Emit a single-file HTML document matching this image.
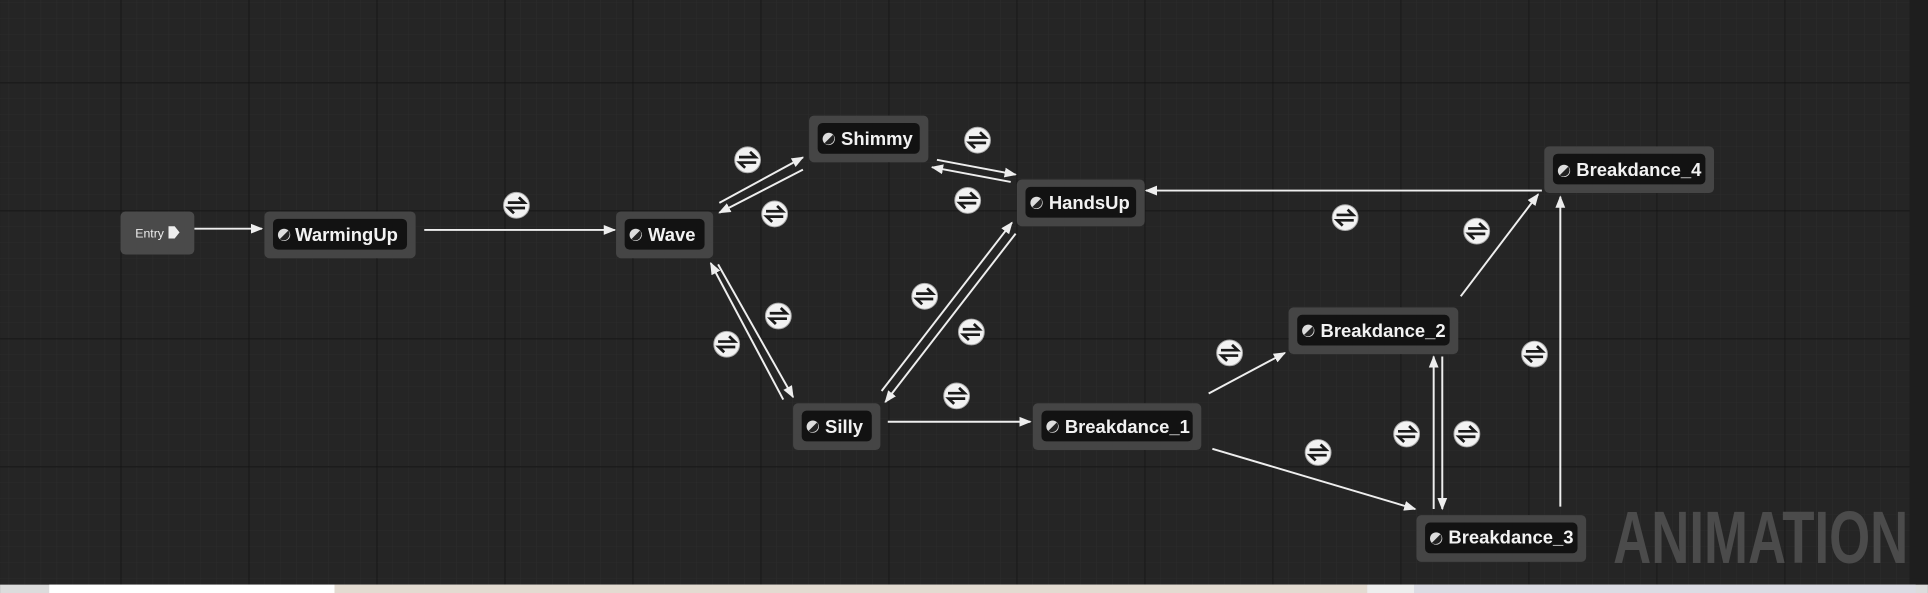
<!DOCTYPE html>
<html><head><style>
html,body{margin:0;padding:0;background:#252525;overflow:hidden}
svg{display:block}
</style></head><body>
<svg width="1928" height="593" viewBox="0 0 1568 482.3" xmlns="http://www.w3.org/2000/svg" font-family="'Liberation Sans',sans-serif">
<defs>
<pattern id="mn" width="13.01" height="13.01" patternUnits="userSpaceOnUse" x="98" y="67">
<path d="M0 0H13.01M0 0V13.01" stroke="#2c2c2c" stroke-width="0.8" fill="none"/>
</pattern>
<pattern id="mj" width="104.1" height="104.1" patternUnits="userSpaceOnUse" x="98" y="67">
<path d="M0 0H104.1M0 0V104.1" stroke="#141414" stroke-width="1.4" fill="none"/>
</pattern>
<marker id="ah" markerWidth="10" markerHeight="10" refX="9" refY="5" orient="auto" markerUnits="userSpaceOnUse">
<path d="M0 1L10 5L0 9Z" fill="#eee"/>
</marker>
<g id="ti">
<circle r="10.5" fill="#f2f2f2" stroke="#aaa" stroke-width="0.8"/>
<path d="M-7 -2.2H6.5L2 -6.5M7 2.2H-6.5L-2 6.5" stroke="#1a1a1a" stroke-width="2.2" fill="none"/>
</g>
</defs>
<rect width="1568" height="483" fill="#252525"/>
<rect width="1568" height="483" fill="url(#mn)"/>
<rect width="1568" height="483" fill="url(#mj)"/>
<rect x="1553" y="0" width="15" height="476" fill="#1e1e1e"/>

<g stroke="#eee" stroke-width="1.6" fill="none" marker-end="url(#ah)">
<path d="M158 186H213"/>
<path d="M345 187H500"/>
<path d="M585 165L653 128"/>
<path d="M653 138L585 173"/>
<path d="M762 130L826 142"/>
<path d="M822 148L758 136"/>
<path d="M584 215L645 323"/>
<path d="M637 325L578 214"/>
<path d="M717 318L823 181"/>
<path d="M826 190L720 327"/>
<path d="M722 343H838"/>
<path d="M1254 155H932"/>
<path d="M983 320L1045 287"/>
<path d="M986 365L1151 414"/>
<path d="M1188 241L1251 158"/>
<path d="M1269 412V160"/>
<path d="M1166 414V290"/>
<path d="M1173 290V414"/>
</g>

<g>
<use href="#ti" x="420" y="167"/><use href="#ti" x="608" y="130"/><use href="#ti" x="630" y="174"/>
<use href="#ti" x="795" y="114"/><use href="#ti" x="787" y="163"/><use href="#ti" x="633" y="257"/>
<use href="#ti" x="591" y="280"/><use href="#ti" x="752" y="241"/><use href="#ti" x="790" y="270"/>
<use href="#ti" x="778" y="322"/><use href="#ti" x="1094" y="177"/><use href="#ti" x="1000" y="287"/>
<use href="#ti" x="1201" y="188"/><use href="#ti" x="1248" y="288"/><use href="#ti" x="1144" y="353"/>
<use href="#ti" x="1193" y="353"/><use href="#ti" x="1072" y="368"/>
</g>

<rect x="98" y="172" width="60" height="35" rx="4" fill="#4a4a4a"/>
<text x="110" y="193" font-size="10" fill="#eee">Entry</text>
<path d="M137 184H142L146 189L142 194H137Z" fill="#eee"/>

<g font-size="15" font-weight="bold" fill="#f2f2f2">
<rect x="215" y="172" width="123" height="38" rx="4" fill="#454545"/>
<rect x="222" y="178" width="109" height="25" rx="4" fill="#121212"/>
<circle cx="231" cy="191" r="5" fill="#ddd"/><path d="M227.5 194.5L234.5 187.5A5 5 0 0 1 227.5 194.5Z" fill="#222"/>
<text x="240" y="196">WarmingUp</text>

<rect x="501" y="172" width="79" height="38" rx="4" fill="#454545"/>
<rect x="508" y="178" width="65" height="25" rx="4" fill="#121212"/>
<circle cx="517" cy="191" r="5" fill="#ddd"/><path d="M513.5 194.5L520.5 187.5A5 5 0 0 1 513.5 194.5Z" fill="#222"/>
<text x="527" y="196">Wave</text>

<rect x="658" y="94" width="97" height="38" rx="4" fill="#454545"/>
<rect x="665" y="100" width="83" height="25" rx="4" fill="#121212"/>
<circle cx="674" cy="113" r="5" fill="#ddd"/><path d="M670.5 116.5L677.5 109.5A5 5 0 0 1 670.5 116.5Z" fill="#222"/>
<text x="684" y="118">Shimmy</text>

<rect x="827" y="146" width="104" height="38" rx="4" fill="#454545"/>
<rect x="834" y="152" width="90" height="25" rx="4" fill="#121212"/>
<circle cx="843" cy="165" r="5" fill="#ddd"/><path d="M839.5 168.5L846.5 161.5A5 5 0 0 1 839.5 168.5Z" fill="#222"/>
<text x="853" y="170">HandsUp</text>

<rect x="645" y="328" width="71" height="38" rx="4" fill="#454545"/>
<rect x="652" y="334" width="57" height="25" rx="4" fill="#121212"/>
<circle cx="661" cy="347" r="5" fill="#ddd"/><path d="M657.5 350.5L664.5 343.5A5 5 0 0 1 657.5 350.5Z" fill="#222"/>
<text x="671" y="352">Silly</text>

<rect x="840" y="328" width="137" height="38" rx="4" fill="#454545"/>
<rect x="847" y="334" width="123" height="25" rx="4" fill="#121212"/>
<circle cx="856" cy="347" r="5" fill="#ddd"/><path d="M852.5 350.5L859.5 343.5A5 5 0 0 1 852.5 350.5Z" fill="#222"/>
<text x="866" y="352">Breakdance_1</text>

<rect x="1048" y="250" width="138" height="38" rx="4" fill="#454545"/>
<rect x="1055" y="256" width="124" height="25" rx="4" fill="#121212"/>
<circle cx="1064" cy="269" r="5" fill="#ddd"/><path d="M1060.5 272.5L1067.5 265.5A5 5 0 0 1 1060.5 272.5Z" fill="#222"/>
<text x="1074" y="274">Breakdance_2</text>

<rect x="1256" y="119" width="138" height="38" rx="4" fill="#454545"/>
<rect x="1263" y="125" width="124" height="25" rx="4" fill="#121212"/>
<circle cx="1272" cy="139" r="5" fill="#ddd"/><path d="M1268.5 142.5L1275.5 135.5A5 5 0 0 1 1268.5 142.5Z" fill="#222"/>
<text x="1282" y="143">Breakdance_4</text>

<rect x="1152" y="419" width="138" height="38" rx="4" fill="#454545"/>
<rect x="1159" y="425" width="124" height="25" rx="4" fill="#121212"/>
<circle cx="1168" cy="438" r="5" fill="#ddd"/><path d="M1164.5 441.5L1171.5 434.5A5 5 0 0 1 1164.5 441.5Z" fill="#222"/>
<text x="1178" y="442">Breakdance_3</text>
</g>

<text x="1312" y="458" font-size="60" font-weight="bold" fill="#4b4b4b" textLength="240" lengthAdjust="spacingAndGlyphs">ANIMATION</text>

<rect x="0" y="475.5" width="1568" height="7" fill="#dcdcdc"/>
<rect x="40" y="475.5" width="232" height="7" fill="#fff"/>
<rect x="272" y="475.5" width="840" height="7" fill="#e3dbd1"/>
<rect x="1112" y="475.5" width="38" height="7" fill="#eee"/>
<rect x="1150" y="475.5" width="408" height="7" fill="#dcdce4"/>
</svg>
</body></html>
